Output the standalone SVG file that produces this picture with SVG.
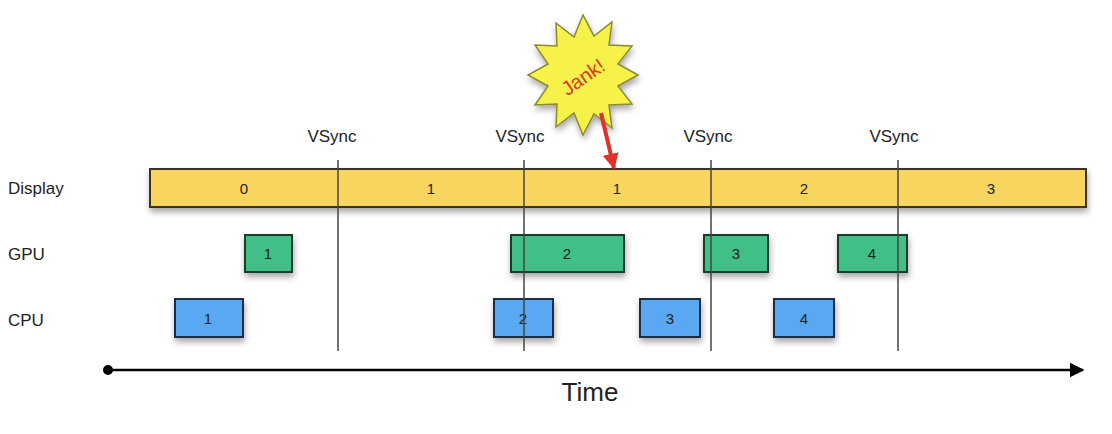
<svg xmlns="http://www.w3.org/2000/svg" width="1112" height="434" viewBox="0 0 1112 434">
<style>
text{font-family:"Liberation Sans",Arial,sans-serif;fill:#222}
.lbl{font-size:17px}
.n{font-size:15px;text-anchor:middle}
.disp{fill:#f7d55e;stroke:#3a3020;stroke-width:2}
.gpu{fill:#3fbf86;stroke:#1d3a2a;stroke-width:2}
.cpu{fill:#5aa8f2;stroke:#1c2d45;stroke-width:2}
.vs{stroke:#444;stroke-width:1.5}
</style>
<defs>
<filter id="sh" x="-10%" y="-20%" width="130%" height="160%"><feDropShadow dx="1" dy="4" stdDeviation="3" flood-opacity="0.35"/></filter>
<marker id="ah" viewBox="0 0 10 10" refX="9" refY="5" markerWidth="6" markerHeight="6" orient="auto"><path d="M0,0L10,5L0,10z" fill="#000"/></marker>
<marker id="rh" viewBox="0 0 10 10" refX="9" refY="5" markerWidth="4" markerHeight="4" orient="auto"><path d="M0,0L10,5L0,10z" fill="#e0302a"/></marker>
</defs>
<text class="lbl" x="8" y="194">Display</text>
<text class="lbl" x="8" y="260">GPU</text>
<text class="lbl" x="8" y="326">CPU</text>
<g id="display">
<rect class="disp" x="150" y="169" width="936" height="38" filter="url(#sh)"/>
<text class="n" x="244" y="194">0</text><text class="n" x="431" y="194">1</text><text class="n" x="617" y="194">1</text><text class="n" x="804" y="194">2</text><text class="n" x="991" y="194">3</text>
</g>
<g id="gpu">
<g id="g1"><rect class="gpu" x="245" y="235" width="47" height="37" filter="url(#sh)"/><text class="n" x="268" y="259">1</text></g>
<g id="g2"><rect class="gpu" x="511" y="235" width="113" height="37" filter="url(#sh)"/><text class="n" x="567" y="259">2</text></g>
<g id="g3"><rect class="gpu" x="704" y="235" width="64" height="37" filter="url(#sh)"/><text class="n" x="736" y="259">3</text></g>
<g id="g4"><rect class="gpu" x="838" y="235" width="69" height="37" filter="url(#sh)"/><text class="n" x="872" y="259">4</text></g>
</g>
<g id="cpu">
<g id="c1"><rect class="cpu" x="175" y="299" width="68" height="38" filter="url(#sh)"/><text class="n" x="208" y="324">1</text></g>
<g id="c2"><rect class="cpu" x="494" y="299" width="59" height="38" filter="url(#sh)"/><text class="n" x="523" y="324">2</text></g>
<g id="c3"><rect class="cpu" x="640" y="299" width="60" height="38" filter="url(#sh)"/><text class="n" x="670" y="324">3</text></g>
<g id="c4"><rect class="cpu" x="774" y="299" width="60" height="38" filter="url(#sh)"/><text class="n" x="804" y="324">4</text></g>
</g>
<g id="vsync">
<line class="vs" x1="338" y1="160" x2="338" y2="351"/><text class="lbl" x="332" y="142" text-anchor="middle">VSync</text>
<line class="vs" x1="524" y1="160" x2="524" y2="351"/><text class="lbl" x="520" y="142" text-anchor="middle">VSync</text>
<line class="vs" x1="711" y1="160" x2="711" y2="351"/><text class="lbl" x="708" y="142" text-anchor="middle">VSync</text>
<line class="vs" x1="898" y1="160" x2="898" y2="351"/><text class="lbl" x="894" y="142" text-anchor="middle">VSync</text>
</g>
<g id="jank">
<polygon filter="url(#sh)" fill="#f6f24a" stroke="#8a8a30" stroke-width="1.5" points="638,75 618,86 632,104 609,105 612,128 594,114 583,135 574,113 556,127 557,104 535,105 548,86 528,75 548,64 535,45 557,46 556,23 574,37 583,15 594,36 612,22 609,45 632,46 618,64"/>
<text x="583" y="84" font-size="20" text-anchor="middle" style="fill:#d83a22" transform="rotate(-35 583 77)">Jank!</text>
</g>
<g id="connectors">
<line x1="601" y1="113" x2="614" y2="168" stroke="#e0302a" stroke-width="4" marker-end="url(#rh)"/>
<circle cx="108" cy="370" r="5" fill="#000"/>
<line x1="108" y1="370" x2="1083" y2="370" stroke="#000" stroke-width="2.5" marker-end="url(#ah)"/>
</g>
<text x="590" y="401" font-size="26" text-anchor="middle">Time</text>
</svg>
